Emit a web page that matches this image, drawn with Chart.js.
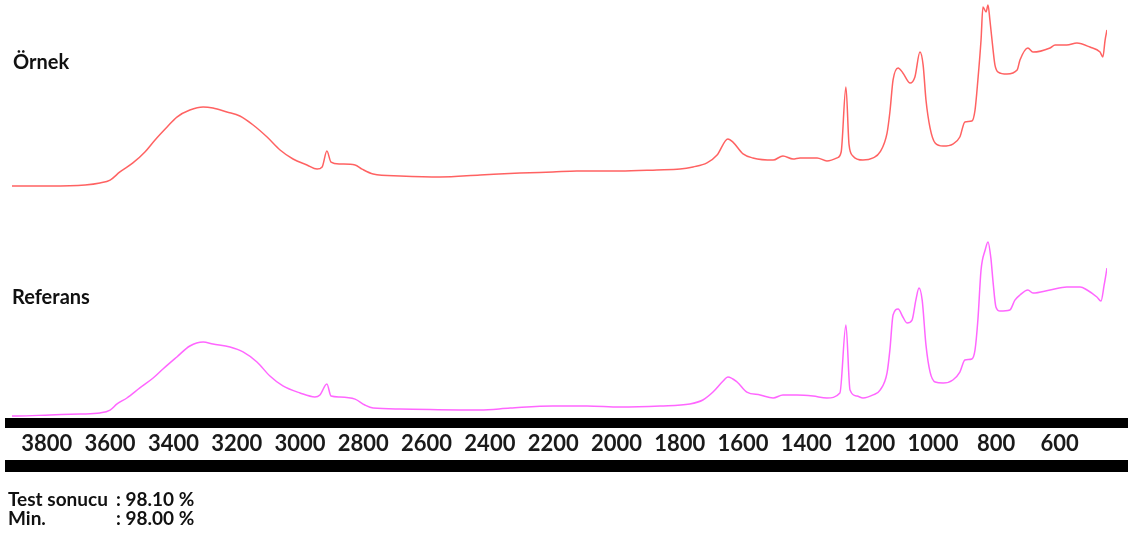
<!DOCTYPE html>
<html lang="tr">
<head>
  <meta charset="UTF-8" />
  <title>FTIR karşılaştırma</title>
  <script src="https://cdn.jsdelivr.net/npm/chart.js"></script>
  <style>
    body { margin: 0; background: #fff; font-family: Lato, "Noto Sans", sans-serif; }
    .wrap { position: relative; width: 1133px; height: 540px; }
    canvas { position: absolute; left: 0; top: 0; }
    .etiket { position: absolute; font-weight: bold; font-size: 20px; color: #111; line-height: 1; }
    .sonuc { position: absolute; left: 8px; top: 489px; font-weight: bold; font-size: 19px; color: #111; line-height: 19px; }
    .sonuc span { display: inline-block; width: 108px; }
  </style>
</head>
<body>
  <div class="wrap">
    <canvas id="chartSpektrum" width="1133" height="540"></canvas>
    <div class="etiket" style="left:13px; top:51px;">Örnek</div>
    <div class="etiket" style="left:12px; top:286px;">Referans</div>
    <div class="sonuc">
      <div><span>Test sonucu</span>: 98.10 %</div>
      <div><span>Min.</span>: 98.00 %</div>
    </div>
  </div>

  <script>
    // dalga sayısı (cm-1) ve absorbans değerleri
    const ornekDalga = [3910, 3885, 3790, 3679, 3632, 3600, 3569, 3528, 3490, 3458, 3420, 3389, 3348, 3306, 3275, 3231,
      3190, 3148, 3104, 3063, 3022, 2978, 2946, 2930, 2915, 2902, 2874, 2826, 2804, 2769, 2684, 2558, 2431, 2305, 2201,
      2125, 1989, 1872, 1799, 1758, 1714, 1682, 1648, 1632, 1600, 1569, 1505, 1474, 1442, 1420, 1366, 1335, 1303, 1290,
      1275, 1265, 1253, 1221, 1189, 1167, 1145, 1136, 1126, 1110, 1095, 1072, 1057, 1041, 1031, 1022, 1009, 993, 968,
      937, 915, 899, 877, 867, 858, 848, 842, 832, 826, 820, 810, 804, 794, 766, 734, 725, 700, 684, 630, 614, 577, 545,
      504, 472, 463, 456, 450];
    const ornekAbs = [0, 0, 0, 0.006, 0.017, 0.033, 0.078, 0.128, 0.189, 0.256, 0.328, 0.383, 0.422, 0.439, 0.433, 0.411,
      0.389, 0.339, 0.272, 0.200, 0.150, 0.117, 0.094, 0.106, 0.194, 0.133, 0.122, 0.117, 0.094, 0.067, 0.056, 0.050,
      0.061, 0.072, 0.078, 0.083, 0.083, 0.089, 0.094, 0.106, 0.128, 0.172, 0.261, 0.244, 0.178, 0.156, 0.144, 0.167,
      0.150, 0.156, 0.156, 0.139, 0.156, 0.189, 0.550, 0.228, 0.167, 0.144, 0.156, 0.189, 0.294, 0.411, 0.589, 0.656,
      0.628, 0.572, 0.606, 0.744, 0.672, 0.478, 0.322, 0.239, 0.222, 0.233, 0.272, 0.356, 0.361, 0.422, 0.589, 0.811,
      0.994, 0.967, 1.006, 0.922, 0.756, 0.672, 0.633, 0.622, 0.644, 0.700, 0.767, 0.744, 0.767, 0.783, 0.783, 0.794,
      0.772, 0.744, 0.717, 0.811, 0.867];

    const referansDalga = [3910, 3894, 3790, 3695, 3632, 3600, 3578, 3547, 3506, 3464, 3433, 3389, 3348, 3306, 3275, 3221,
      3180, 3136, 3095, 3054, 3000, 2953, 2937, 2915, 2902, 2874, 2826, 2795, 2769, 2684, 2431, 2336, 2201, 2093, 1989,
      1862, 1768, 1727, 1695, 1663, 1648, 1619, 1588, 1546, 1505, 1474, 1430, 1379, 1335, 1294, 1275, 1262, 1240, 1221,
      1189, 1167, 1145, 1136, 1126, 1110, 1095, 1082, 1066, 1054, 1044, 1034, 1022, 1009, 993, 968, 937, 915, 899, 877,
      867, 858, 848, 835, 826, 817, 810, 801, 788, 757, 741, 725, 700, 684, 630, 577, 535, 513, 482, 469, 459, 450];
    const referansAbs = [0, 0, 0.006, 0.011, 0.017, 0.033, 0.067, 0.100, 0.156, 0.211, 0.261, 0.328, 0.389, 0.411, 0.400,
      0.383, 0.356, 0.300, 0.222, 0.167, 0.128, 0.106, 0.117, 0.178, 0.111, 0.106, 0.094, 0.061, 0.044, 0.039, 0.033,
      0.044, 0.056, 0.056, 0.050, 0.056, 0.067, 0.089, 0.133, 0.194, 0.217, 0.189, 0.133, 0.117, 0.100, 0.117, 0.117,
      0.111, 0.100, 0.128, 0.506, 0.144, 0.111, 0.100, 0.117, 0.144, 0.239, 0.367, 0.561, 0.594, 0.550, 0.517, 0.533,
      0.644, 0.711, 0.644, 0.394, 0.244, 0.189, 0.183, 0.200, 0.244, 0.311, 0.317, 0.367, 0.533, 0.811, 0.922, 0.967,
      0.878, 0.744, 0.606, 0.583, 0.589, 0.644, 0.672, 0.700, 0.683, 0.700, 0.717, 0.717, 0.700, 0.661, 0.639, 0.728,
      0.822];

    const eksenEtiketleri = [3800, 3600, 3400, 3200, 3000, 2800, 2600, 2400, 2200, 2000, 1800, 1600, 1400, 1200, 1000, 800, 600];

    const noktalar = (xs, ys) => xs.map((x, i) => ({ x: x, y: ys[i] }));

    // eksen altındaki ve üstündeki kalın siyah şeritler
    const seritler = {
      id: 'seritler',
      afterDraw(chart) {
        const ctx = chart.ctx;
        ctx.save();
        ctx.fillStyle = '#000';
        ctx.fillRect(5, 418, 1123, 10);
        ctx.fillRect(5, 460, 1123, 12);
        ctx.restore();
      }
    };

    new Chart(document.getElementById('chartSpektrum'), {
      type: 'line',
      data: {
        datasets: [{
          label: 'Örnek',
          data: noktalar(ornekDalga, ornekAbs),
          borderColor: '#ff6262',
          borderWidth: 1.5,
          pointRadius: 0,
          cubicInterpolationMode: 'monotone',
          yAxisID: 'yOrnek'
        }, {
          label: 'Referans',
          data: noktalar(referansDalga, referansAbs),
          borderColor: '#ff66ff',
          borderWidth: 1.5,
          pointRadius: 0,
          cubicInterpolationMode: 'monotone',
          yAxisID: 'yReferans'
        }]
      },
      options: {
        responsive: false,
        animation: false,
        layout: { padding: { left: 12, right: 26, top: 0, bottom: 0 } },
        plugins: { legend: { display: false }, tooltip: { enabled: false } },
        scales: {
          x: {
            type: 'linear',
            reverse: true,
            min: 450,
            max: 3910,
            afterFit(scale) { scale.height = 122; },
            afterBuildTicks(scale) { scale.ticks = eksenEtiketleri.map(v => ({ value: v })); },
            grid: { display: false },
            border: { display: false },
            ticks: {
              autoSkip: false,
              maxRotation: 0,
              padding: 5,
              color: '#1a1a1a',
              callback: v => String(v),
              font: { family: 'Lato', size: 22, weight: 'bold' }
            }
          },
          yOrnek: { display: false, min: -1.2889, max: 1.0333 },
          yReferans: { display: false, min: -0.0111, max: 2.3111 }
        }
      },
      plugins: [seritler]
    });
  </script>
</body>
</html>
